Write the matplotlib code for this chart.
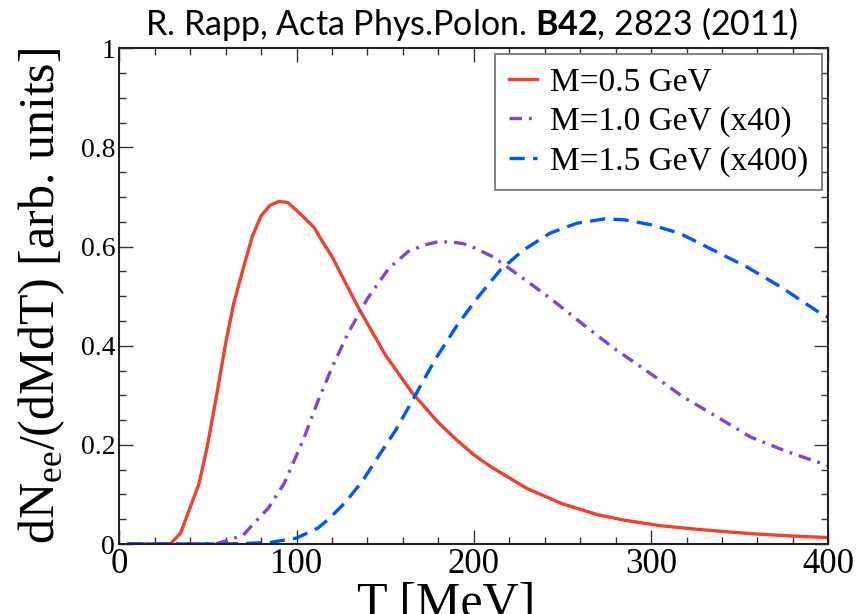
import matplotlib
matplotlib.use("Agg")
import matplotlib.pyplot as plt
from matplotlib.ticker import MultipleLocator

plt.rcParams['lines.scale_dashes'] = False
plt.rcParams['mathtext.fontset'] = 'custom'
plt.rcParams['mathtext.rm'] = 'Lato'
plt.rcParams['mathtext.bf'] = 'Lato:bold'

# ---------------- data ----------------
T_red = [5, 15, 25, 29, 34.6, 45, 49.6, 55, 60, 64.6, 70, 75, 80, 85, 90, 95, 100,
         105, 110, 115, 120, 125, 135, 150, 165, 180, 190, 200, 210, 230, 250, 270,
         285, 305, 325, 345, 360, 380, 400]
N_red = [0, 0, 0, 0.001, 0.022, 0.122, 0.196, 0.302, 0.405, 0.486, 0.557, 0.620,
         0.662, 0.683, 0.691, 0.689, 0.673, 0.656, 0.638, 0.608, 0.580, 0.545, 0.476,
         0.382, 0.306, 0.245, 0.211, 0.180, 0.155, 0.112, 0.081, 0.059, 0.048, 0.037,
         0.030, 0.024, 0.020, 0.016, 0.013]

T_pur = [5, 30, 55, 60, 70, 76, 84, 93, 104, 112, 120, 129, 140, 152, 163, 172, 180,
         188, 194, 200, 211, 220, 232, 243, 262, 279, 302, 318, 337, 356, 377, 400]
N_pur = [0, 0, 0.001, 0.006, 0.018, 0.042, 0.072, 0.122, 0.212, 0.288, 0.356, 0.425,
         0.495, 0.556, 0.590, 0.603, 0.610, 0.609, 0.606, 0.598, 0.579, 0.556, 0.525,
         0.496, 0.442, 0.395, 0.338, 0.297, 0.257, 0.216, 0.186, 0.158]

T_blu = [5, 60, 85, 100, 112, 118, 127, 137, 146, 156, 167, 178, 190, 201, 215, 228,
         243, 258, 274, 285, 300, 316, 335, 354, 373, 394, 400]
N_blu = [0, 0, 0.003, 0.012, 0.032, 0.050, 0.082, 0.126, 0.176, 0.230, 0.300, 0.371,
         0.438, 0.492, 0.553, 0.593, 0.627, 0.647, 0.656, 0.654, 0.644, 0.627, 0.593,
         0.559, 0.519, 0.469, 0.457]

labels = ["M=0.5 GeV", "M=1.0 GeV (x40)", "M=1.5 GeV (x400)"]
x_ticks = [0, 100, 200, 300, 400]
x_ticklabels = ["0", "100", "200", "300", "400"]
y_ticks = [0, 0.2, 0.4, 0.6, 0.8, 1.0]
y_ticklabels = ["0", "0.2", "0.4", "0.6", "0.8", "1"]

title = r"R. Rapp, Acta Phys.Polon. $\mathbf{B42}$, 2823 (2011)"
xlabel = "T [MeV]"
ylabel = r"dN$_{\mathregular{ee}}$/(dMdT) [arb. units]"

# ---------------- figure ----------------
W, H = 866, 614
fig = plt.figure(figsize=(W / 100, H / 100), dpi=100)
L, R, Tp, B = 119.3, 828.3, 48.3, 544.0
ax = fig.add_axes([L / W, 1 - B / H, (R - L) / W, (B - Tp) / H])

serif = ['Liberation Serif', 'DejaVu Serif']

ax.plot(T_red, N_red, color='#EF4130', lw=2.4, label=labels[0])
ax.plot(T_pur, N_pur, color='#7F45D6', lw=2.4, linestyle=(0, (9, 5, 2, 5)), label=labels[1])
ax.plot(T_blu, N_blu, color='#0055FF', lw=2.4, linestyle=(0, (11, 6)), label=labels[2])

ax.set_xlim(0, 400)
ax.set_ylim(0, 1)
ax.set_xticks(x_ticks)
ax.set_xticklabels(x_ticklabels, fontfamily=serif, fontsize=25)
ax.set_yticks(y_ticks)
ax.set_yticklabels(y_ticklabels, fontfamily=serif, fontsize=20)
ax.xaxis.set_minor_locator(MultipleLocator(20))
ax.yaxis.set_minor_locator(MultipleLocator(0.05))
ax.tick_params(which='both', direction='in', top=True, right=True, color='#333333', width=1.0)
ax.tick_params(which='major', length=10)
ax.tick_params(which='minor', length=5)
ax.tick_params(axis='x', which='major', pad=3)
ax.tick_params(axis='y', which='major', pad=3)
for s in ax.spines.values():
    s.set_linewidth(1.5)
    s.set_color('#222222')

ax.set_xlabel(xlabel, fontfamily=serif, fontsize=36)
ax.xaxis.label.set_va('baseline')
ax.xaxis.set_label_coords((446 - L) / (R - L), (B - 617) / (B - Tp))
ax.set_ylabel(ylabel, fontfamily=serif, fontsize=36)
ax.yaxis.label.set_va('center')
ax.yaxis.set_label_coords((42 - L) / (R - L), 0.5)

fig.text(471.5 / W, 1 - 35 / H, title, ha='center', va='baseline',
         fontfamily=['Lato', 'DejaVu Sans'], fontsize=24.5)

leg = ax.legend(loc='upper right', bbox_to_anchor=(822 / W, 1 - 54 / H),
                bbox_transform=fig.transFigure, borderaxespad=0,
                prop={'family': serif, 'size': 24}, fancybox=False, framealpha=1,
                edgecolor='#777777', handlelength=0.85, handletextpad=0.4,
                labelspacing=0.26, borderpad=0.4)
leg.get_frame().set_linewidth(1.3)

fig.savefig('out.png', dpi=100)
